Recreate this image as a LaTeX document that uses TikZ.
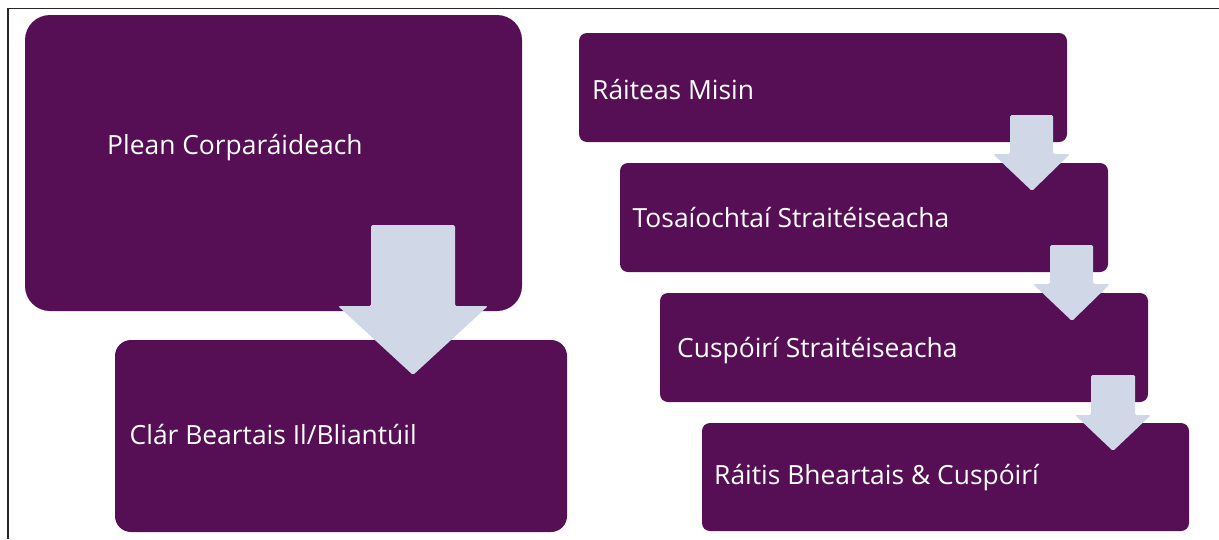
\documentclass[tikz,border=0pt]{standalone}
\usepackage{fontspec}
\setmainfont{Open Sans}
\definecolor{boxpurple}{HTML}{560F55}
\definecolor{arrowblue}{HTML}{D0D8E8}
\begin{document}
\begin{tikzpicture}[x=1pt,y=-1pt,
  box/.style={fill=boxpurple, draw=none, rounded corners=8pt, outer sep=0pt, inner sep=0pt},
  lbl/.style={text=white, anchor=base west, inner sep=0pt, font=\fontsize{26.4}{30}\selectfont},
  blk/.style={fill=arrowblue, draw=none, rounded corners=1.5pt}]
\useasboundingbox (0,0) rectangle (1219,539);
% frame
\draw[line width=1.2pt, black!85] (8,539) -- (8,8.5) -- (1219,8.5);
% left boxes
\node[box, rounded corners=25pt, minimum width=497pt, minimum height=296pt] (plan) at (273.5,163) {};
\node[box, rounded corners=16pt, minimum width=452pt, minimum height=192pt] (clar) at (341,436) {};
% right boxes
\node[box, minimum width=488pt, minimum height=109pt] (r1) at (823,87.5) {};
\node[box, minimum width=488pt, minimum height=109pt] (r2) at (864,217.5) {};
\node[box, minimum width=488pt, minimum height=109pt] (r3) at (904,347.5) {};
\node[box, minimum width=487pt, minimum height=108pt] (r4) at (945.5,477) {};
% labels
\node[lbl] (tplan) at (107,154) {Plean Corparáideach};
\node[lbl] (tclar) at (129.5,444.5) {Clár Beartais Il/Bliantúil};
\node[lbl] (t1) at (592,99.5) {Ráiteas Misin};
\node[lbl] (t2) at (632.5,227) {Tosaíochtaí Straitéiseacha};
\node[lbl] (t3) at (677,357.5) {Cuspóirí Straitéiseacha};
\node[lbl] (t4) at (714,484.5) {Ráitis Bheartais \& Cuspóirí};
% block arrows
\fill[blk] (371,225) -- (455,225) -- (455,306) -- (488,306) -- (413,375) -- (338,306) -- (371,306) -- cycle;
\fill[blk] (1010,115) -- (1053,115) -- (1053,154) -- (1070,154) -- (1032,191) -- (993,154) -- (1010,154) -- cycle;
\fill[blk] (1050,245) -- (1093,245) -- (1093,284) -- (1110,284) -- (1072,321) -- (1033,284) -- (1050,284) -- cycle;
\fill[blk] (1091,375) -- (1135,375) -- (1135,415) -- (1151,415) -- (1113,451) -- (1075,415) -- (1091,415) -- cycle;
\end{tikzpicture}
\end{document}
